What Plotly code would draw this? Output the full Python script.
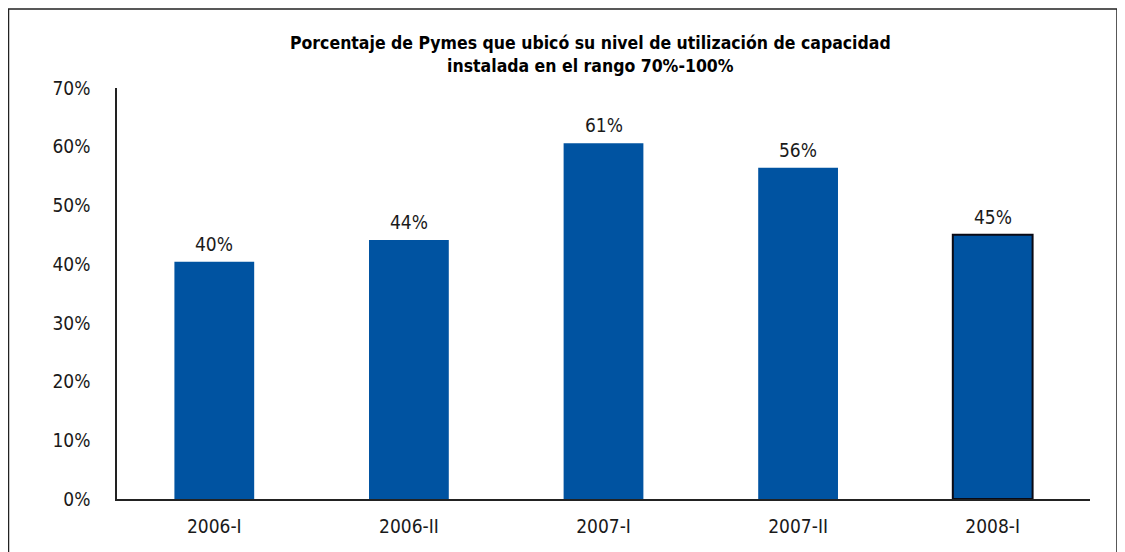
import plotly.graph_objects as go

categories = ["2006-I", "2006-II", "2007-I", "2007-II", "2008-I"]
values = [40.4, 44.1, 60.6, 56.4, 45.0]
tick_vals = [0, 10, 20, 30, 40, 50, 60, 70]
tick_text = ["0%", "10%", "20%", "30%", "40%", "50%", "60%", "70%"]
title_text = "Porcentaje de Pymes que ubicó su nivel de utilización de capacidad<br>instalada en el rango 70%-100%"

bar_color = "#0053A1"
line_colors = ["rgba(0,0,0,0)"] * 4 + ["#0a0a14"]
line_widths = [0, 0, 0, 0, 2]

FONT = "Tahoma, 'DejaVu Sans Condensed', 'DejaVu Sans', sans-serif"

# page has an 8px body offset; layout compensates
W, H = 1117, 544
L, T, R, B = 109, 80, 35, 53
PW = W - L - R
PH = H - T - B

fig = go.Figure()
fig.add_trace(go.Bar(
    x=categories, y=values,
    marker=dict(color=bar_color, line=dict(color=line_colors, width=line_widths)),
    width=0.41,
    hoverinfo="x+y",
))

annotations = [dict(
    x=c, y=v, xref="x", yref="y", text=f"{v:.0f}%", showarrow=False,
    yanchor="bottom", yshift=5, font=dict(size=19, color="#1a1a1a", family=FONT),
) for c, v in zip(categories, values)]

annotations.append(dict(
    text="<b>" + title_text + "</b>", xref="paper", yref="paper",
    x=(582 - L) / PW, y=1 + (T - 47) / PH, xanchor="center", yanchor="middle",
    showarrow=False, font=dict(size=17.5, color="black", family=FONT), align="center",
))

fig.update_layout(
    width=W, height=H,
    margin=dict(l=L, r=R, t=T, b=B),
    paper_bgcolor="white", plot_bgcolor="white",
    showlegend=False,
    font=dict(family=FONT, size=19, color="#1a1a1a"),
    xaxis=dict(showline=True, linecolor="#222", linewidth=1.5, ticks="",
               showgrid=False, tickfont=dict(size=19), ticklabelstandoff=9),
    yaxis=dict(range=[0, 70], tickvals=tick_vals, ticktext=tick_text,
               showline=True, linecolor="#222", linewidth=1.5, ticks="",
               showgrid=False, zeroline=False, tickfont=dict(size=19),
               ticklabelstandoff=21),
    annotations=annotations,
    shapes=[dict(type="rect", xref="paper", yref="paper",
                 x0=(0.5 - L) / PW, x1=(1109 - L) / PW,
                 y0=-0.3, y1=1 + (T - 1) / PH,
                 line=dict(color="#222", width=1.5), layer="below")],
)

fig.write_html("out.html")
